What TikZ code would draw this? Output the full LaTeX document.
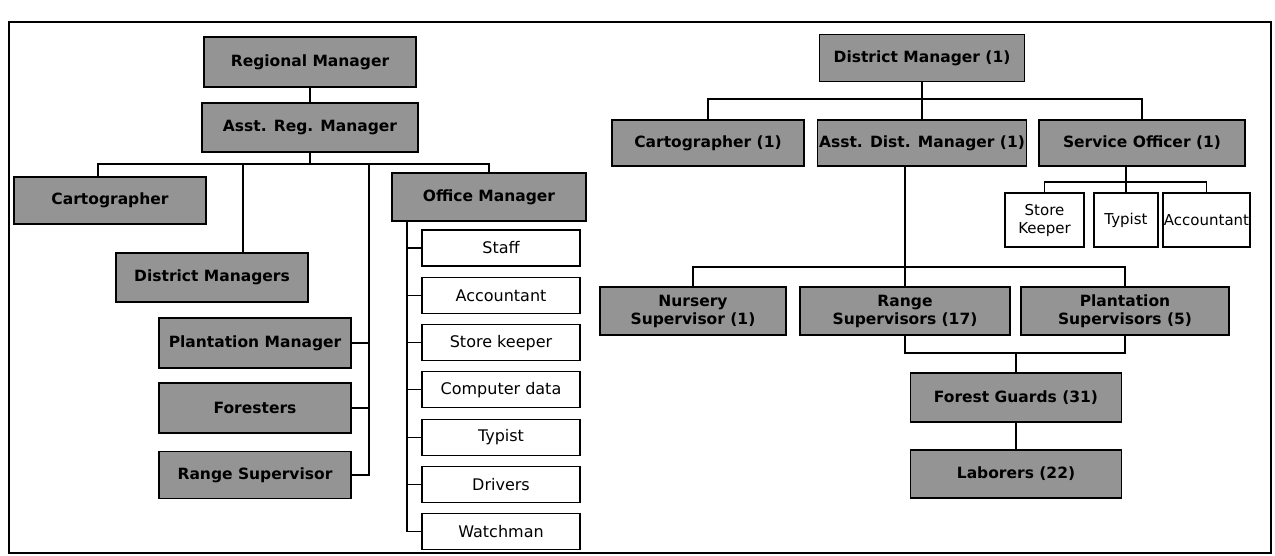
\documentclass[tikz,border=0pt]{standalone}
\usepackage{fontspec}
\setmainfont{DejaVu Sans}
\begin{document}
\begin{tikzpicture}[x=1pt,y=-1pt,
  sz/.style 2 args={minimum width=#1pt,minimum height=#2pt},
  post/.style={draw=black,line width=1.3pt,fill=black!42,inner sep=0pt,align=center,
    font=\bfseries\fontsize{15.5}{18}\selectfont},
  clerk/.style={draw=black,line width=1.1pt,fill=white,inner sep=0pt,align=center,
    font=\fontsize{15}{18}\selectfont},
  office/.style={clerk,sz={158}{36},font=\fontsize{16}{18}\selectfont},
  link/.style={draw=black,line width=1.1pt}]
\useasboundingbox (0,0) rectangle (1275,556);
% outer frame
\draw[line width=1.4pt] (9,22) rectangle (1271,553);

% ---------------- regional office ----------------
\node[post,sz={212}{50}] (rm)    at (310,62)    {Regional Manager};
\node[post,sz={216}{49}] (arm)   at (310,127.5) {Asst. Reg. Manager};
\node[post,sz={192}{47}] (carto) at (110,200.5) {Cartographer};
\node[post,sz={192}{49}] (dms)   at (212,277.5) {District Managers};
\node[post,sz={192}{50}] (pm)    at (255,343)   {Plantation Manager};
\node[post,sz={192}{50}] (fo)    at (255,408)   {Foresters};
\node[post,sz={192}{47}] (rs)    at (255,475)   {Range Supervisor};
\node[post,sz={194}{48}] (om)    at (489,197)   {Office Manager};

\node[office] (staff) at (501,248)   {Staff};
\node[office] (acc)   at (501,295.3) {Accountant};
\node[office] (store) at (501,342.6) {Store keeper};
\node[office] (comp)  at (501,389.9) {Computer data};
\node[office] (typ)   at (501,437.2) {Typist};
\node[office] (drv)   at (501,484.5) {Drivers};
\node[office] (watch) at (501,531.8) {Watchman};

\coordinate (lbus) at (310,164);
\coordinate (lv)   at (369,164);
\coordinate (ov)   at (407,221);

\draw[link] (rm.south) -- (arm.north);
\draw[link] (arm.south) -- (lbus);
\draw[link] ([xshift=-12pt]carto.north) |- (lbus) -| (om.north);
\draw[link] (lbus) -| ([xshift=31pt]dms.north);
\draw[link] (lv) |- (rs.east);
\draw[link] (pm.east) -- (pm.east -| lv);
\draw[link] (fo.east) -- (fo.east -| lv);
\draw[link] (om.south -| ov) |- (watch.west);
\foreach \n in {staff,acc,store,comp,typ,drv}
  \draw[link] (\n.west) -- (\n.west -| ov);

% ---------------- district office ----------------
\node[post,sz={205}{47}] (dm)   at (922,58)   {District Manager (1)};
\node[post,sz={192}{46}] (cart) at (708,143)  {Cartographer (1)};
\node[post,sz={209}{46}] (adm)  at (922,143)  {Asst. Dist. Manager (1)};
\node[post,sz={206}{46}] (so)   at (1142,143) {Service Officer (1)};

\node[clerk,sz={79}{54}] (sk) at (1044.5,220) {Store\\Keeper};
\node[clerk,sz={64}{54}] (ty) at (1126,220)   {Typist};
\node[clerk,sz={87}{54}] (ac) at (1206.5,220) {Accountant};

\node[post,sz={186}{48}] (ns)  at (693,311)  {Nursery\\Supervisor (1)};
\node[post,sz={210}{48}] (rsv) at (905,311)  {Range\\Supervisors (17)};
\node[post,sz={208}{48}] (ps)  at (1125,311) {Plantation\\Supervisors (5)};
\node[post,sz={211}{49}] (fg)  at (1016,397.5) {Forest Guards (31)};
\node[post,sz={211}{48}] (lab) at (1016,474)  {Laborers (22)};

\coordinate (rb1) at (922,99);
\coordinate (rb2) at (1126,182);
\coordinate (rb3) at (905,267);
\coordinate (rb4) at (1016,353);

\draw[link] (dm.south) -- (adm.north);
\draw[link] (cart.north) |- (rb1) -| (so.north);
\draw[link] ([xshift=-16pt]so.south) -- (rb2);
\draw[link] (sk.north) |- (rb2) -| (ac.north);
\draw[link] (ty.north) -- (rb2);
\draw[link] ([xshift=-17pt]adm.south) -- (rsv.north);
\draw[link] (ns.north) |- (rb3) -| (ps.north);
\draw[link] (rsv.south) |- (rb4) -| (ps.south);
\draw[link] (rb4) -- (fg.north);
\draw[link] (fg.south) -- (lab.north);
\end{tikzpicture}
\end{document}
